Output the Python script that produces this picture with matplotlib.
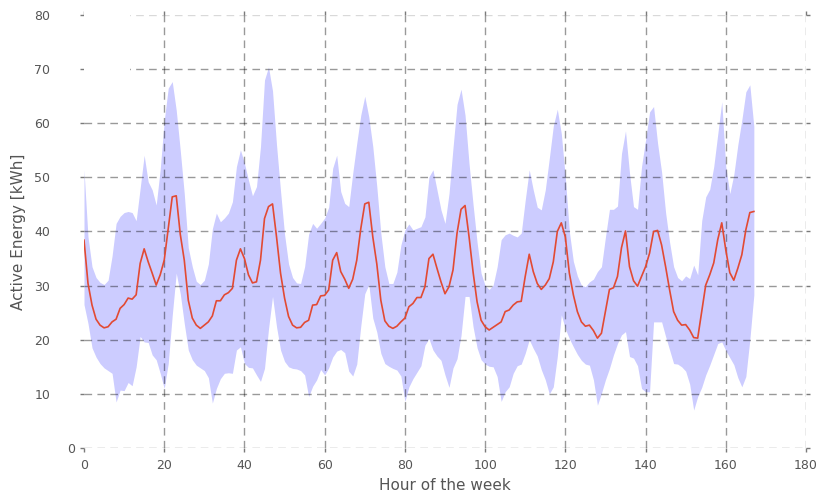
"""
Weekly load profile: mean hourly active energy with its spread band
"""
import matplotlib
matplotlib.use("Agg")
import matplotlib.pyplot as plt
from matplotlib.patches import Rectangle
import numpy as np

# Hour of the week (0 = Monday 00:00)
hours = np.arange(168)

# Mean active energy per hour [kWh]
mean_kwh = [
    38.4, 30.4, 26.4, 23.8, 22.7, 22.2, 22.4, 23.3, 23.8, 25.8, 26.5, 27.7,
    27.5, 28.3, 34.1, 36.8, 34.4, 32.3, 30.1, 32.0, 34.7, 40.5, 46.4, 46.6,
    39.5, 34.7, 27.3, 24.0, 22.7, 22.1, 22.7, 23.3, 24.4, 27.2, 27.2, 28.3,
    28.7, 29.5, 34.7, 36.8, 35.0, 32.0, 30.5, 30.7, 34.7, 42.4, 44.6, 45.1,
    39.0, 32.3, 27.7, 24.3, 22.7, 22.2, 22.3, 23.2, 23.6, 26.4, 26.5, 28.1,
    28.2, 29.2, 34.7, 36.1, 32.6, 31.2, 29.5, 31.2, 34.7, 40.5, 45.1, 45.4,
    39.0, 34.0, 27.3, 23.5, 22.5, 22.1, 22.5, 23.3, 24.0, 26.1, 26.7, 27.8,
    27.8, 29.8, 35.0, 35.8, 33.2, 30.7, 28.5, 29.8, 32.9, 39.7, 44.1, 44.8,
    39.0, 32.5, 27.0, 23.6, 22.4, 21.8, 22.3, 22.8, 23.3, 25.2, 25.5, 26.4,
    27.0, 27.1, 31.7, 35.8, 32.6, 30.4, 29.3, 30.1, 31.3, 34.4, 40.0, 41.6,
    39.0, 32.3, 28.3, 25.2, 23.3, 22.5, 22.7, 21.7, 20.3, 21.2, 25.2, 29.3,
    29.6, 31.7, 37.0, 40.1, 33.5, 30.9, 29.9, 31.7, 33.5, 36.0, 40.0, 40.2,
    37.5, 33.5, 29.2, 25.2, 23.6, 22.7, 22.8, 21.8, 20.4, 20.3, 25.2, 30.1,
    32.0, 34.2, 38.5, 41.6, 36.6, 32.4, 31.0, 33.2, 35.7, 40.3, 43.5, 43.7,
]

# Lower edge of the spread band [kWh]
lower_kwh = [
    26.5, 23.0, 18.5, 16.8, 15.6, 14.8, 14.3, 13.8, 8.5, 10.7, 10.6, 12.1,
    11.5, 15.0, 20.6, 19.6, 19.5, 17.2, 16.3, 13.8, 11.0, 15.6, 24.5, 32.3,
    28.5, 23.0, 18.1, 16.3, 15.3, 14.8, 14.3, 13.0, 8.3, 11.0, 12.8, 13.8,
    13.9, 13.8, 18.1, 18.7, 15.6, 14.9, 14.8, 13.5, 12.3, 14.7, 22.0, 28.0,
    22.4, 18.1, 16.0, 15.0, 14.7, 14.6, 14.3, 13.5, 9.5, 11.4, 12.6, 14.5,
    13.5, 14.8, 16.8, 17.9, 18.2, 17.6, 14.2, 13.3, 15.5, 22.5, 28.5, 30.2,
    24.0, 21.4, 17.5, 15.6, 15.1, 14.7, 14.4, 13.3, 8.6, 11.3, 12.8, 14.0,
    15.2, 19.0, 20.2, 18.1, 17.0, 16.2, 13.5, 11.2, 14.8, 16.5, 20.8, 28.0,
    28.0, 22.4, 18.5, 16.3, 15.5, 15.1, 15.0, 13.2, 8.6, 10.4, 11.3, 13.8,
    15.2, 15.5, 17.5, 20.0, 18.4, 17.0, 14.5, 12.6, 10.0, 11.3, 16.9, 24.6,
    22.0, 20.2, 18.7, 17.3, 16.2, 15.5, 15.3, 12.6, 7.9, 10.1, 12.6, 14.7,
    17.2, 19.3, 20.9, 21.5, 16.9, 16.6, 15.2, 11.0, 10.4, 10.4, 23.3, 23.3,
    23.3, 20.6, 18.1, 15.6, 15.5, 15.0, 14.2, 11.8, 7.0, 9.5, 11.2, 13.5,
    15.3, 17.3, 19.3, 19.6, 18.0, 16.7, 15.4, 13.0, 11.3, 13.2, 20.0, 28.3,
]

# Upper edge of the spread band [kWh]
upper_kwh = [
    51.4, 39.0, 33.5, 31.5, 30.6, 30.2, 31.0, 35.5, 41.5, 42.8, 43.5, 43.7,
    43.5, 42.0, 48.0, 54.1, 49.2, 47.7, 44.9, 51.5, 60.5, 66.5, 67.7, 62.4,
    55.0, 47.0, 37.0, 33.5, 30.8, 30.2, 31.0, 34.0, 40.5, 43.4, 41.8, 42.5,
    43.4, 45.5, 52.0, 55.1, 52.6, 49.5, 46.6, 48.3, 55.7, 68.0, 70.4, 66.0,
    56.0, 47.5, 39.5, 34.0, 31.5, 30.5, 30.4, 33.5, 39.5, 41.5, 40.6, 41.5,
    42.5, 44.5, 51.7, 54.1, 47.4, 45.2, 44.6, 50.8, 56.3, 61.5, 65.0, 61.2,
    55.7, 48.3, 39.7, 33.5, 30.4, 30.4, 32.5, 37.5, 40.3, 41.4, 40.3, 40.6,
    40.9, 42.7, 50.1, 51.4, 47.7, 44.0, 41.5, 47.0, 55.5, 63.5, 66.3, 61.5,
    52.5, 45.0, 38.0, 32.3, 30.0, 29.3, 30.1, 33.5, 38.5, 39.4, 39.7, 39.3,
    39.0, 39.7, 45.8, 51.4, 47.7, 44.5, 44.0, 47.7, 53.5, 59.5, 62.6, 58.1,
    50.0, 40.0, 34.5, 31.8, 30.1, 29.8, 30.7, 31.2, 32.6, 33.5, 39.0, 44.1,
    44.1, 44.7, 54.4, 58.6, 50.8, 44.6, 44.1, 52.0, 56.9, 62.1, 63.1, 56.3,
    51.0, 43.5, 38.0, 33.5, 31.5, 30.9, 31.8, 31.3, 33.8, 32.0, 42.0, 46.4,
    47.8, 52.0, 58.0, 64.0, 52.0, 47.0, 50.5, 56.0, 60.6, 65.8, 67.1, 59.4,
]

x_ticks = list(range(0, 181, 20))
y_ticks = list(range(0, 81, 10))

text_gray = "#555555"
tick_gray = "#7a7a7a"

fig = plt.figure(figsize=(8.21, 4.93), dpi=100)
ax = fig.add_axes([84 / 821, 45 / 493, 722 / 821, 433 / 493])

ax.fill_between(hours, lower_kwh, upper_kwh, color="blue", alpha=0.2, linewidth=0)
ax.plot(hours, mean_kwh, color="#e24a33", linewidth=1.2)

ax.set_xlim(0, 180)
ax.set_ylim(0, 80)
ax.set_xticks(x_ticks)
ax.set_yticks(y_ticks)

ax.grid(True, color="black", alpha=0.4, linestyle=(0, (5.5, 3.8)), linewidth=1.0)

# gridlines on the frame edges: drop the left one, fade the top one
ax.xaxis.get_gridlines()[0].set_visible(False)
ax.yaxis.get_gridlines()[-1].set_alpha(0.15)

for side in ["top", "right", "bottom", "left"]:
    ax.spines[side].set_visible(False)

ax.tick_params(axis="both", which="both", direction="out", length=3.2, width=1.0,
               color=tick_gray, labelcolor=text_gray, labelsize=9,
               top=True, right=True, bottom=True, left=True)
ax.tick_params(axis="x", pad=5)

# the non-zero y labels sit further out than the zero label
for tick, value in zip(ax.yaxis.get_major_ticks(), y_ticks):
    tick.set_pad(3 if value == 0 else 21)

ax.set_xlabel("Hour of the week", fontsize=11, color=text_gray, labelpad=4)
ax.set_ylabel("Active Energy [kWh]", fontsize=11, color=text_gray, labelpad=6)

# blank panel in the top-left corner
corner_patch = Rectangle((0, 0.866), 0.064, 0.16, transform=ax.transAxes,
                         facecolor="white", edgecolor="none", zorder=5, clip_on=False)
ax.add_patch(corner_patch)

fig.savefig("out.png", dpi=100)
